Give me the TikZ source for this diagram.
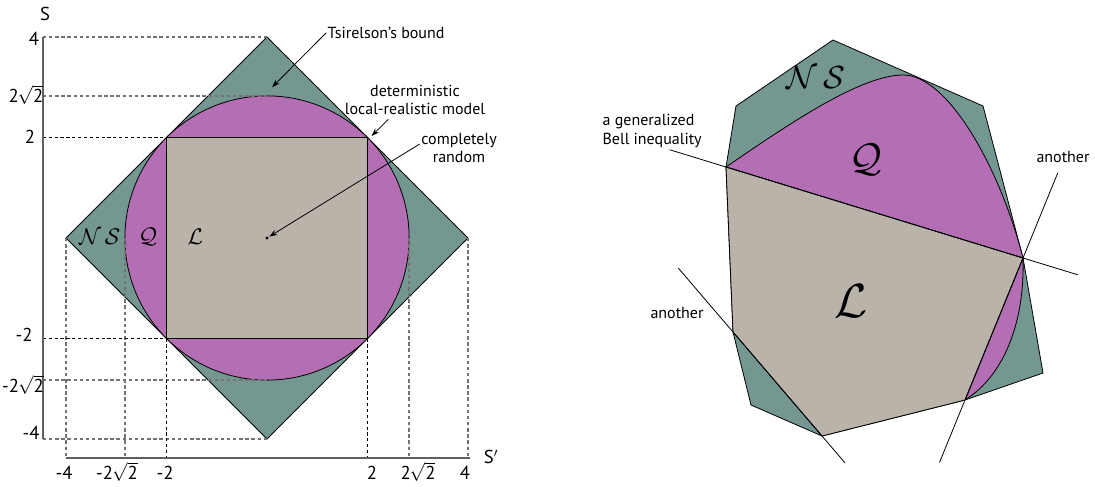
\RequirePackage{fix-cm}
\documentclass[tikz,border=0pt]{standalone}
\usepackage{fontspec}
\setmainfont{PT Sans}
\definecolor{nsTeal}{RGB}{116, 151, 146}
\definecolor{qPurple}{RGB}{180, 111, 180}
\definecolor{lBeige}{RGB}{186, 179, 170}
\definecolor{axisGray}{RGB}{95, 95, 95}
\definecolor{guideGray}{RGB}{115, 115, 115}
\usetikzlibrary{calc, arrows.meta}
\newcommand{\rtwo}{\kern-0.8pt$\sqrt{\mbox{2}}$}

\begin{document}
\begin{tikzpicture}[x=0.75pt, y=-0.75pt,
    region/.style={draw=black, line width=0.6pt, line join=round},
    guide/.style={line width=1pt, guideGray, dash pattern=on 2.6pt off 2pt},
    guideblack/.style={line width=0.5pt, black, dash pattern=on 2.4pt off 2pt},
    axis/.style={line width=1pt, axisGray},
    tick/.style={font=\fontsize{14}{16}\selectfont, inner sep=0pt},
    note/.style={font=\fontsize{12}{14}\selectfont, align=center, inner sep=1pt},
    setname/.style={inner sep=0pt},
    arrow/.style={-{Stealth[length=6pt, width=4.2pt]}, line width=0.6pt},
    bound/.style={line width=0.6pt}
  ]
  \useasboundingbox (0,0) rectangle (1095,486);

  % left: the CHSH plane
  \begin{scope}[shift={(267,238)}, x=37.69pt, y=37.69pt]
    \coordinate (ax) at (-4.46,0);
    \coordinate (ay) at (0,-4.38);
    \filldraw[region, fill=nsTeal] (0,4) -- (4,0) -- (0,-4) -- (-4,0) -- cycle;
    \filldraw[region, fill=qPurple] (0,0) circle (2.828);
    \filldraw[region, fill=lBeige] (-2,-2) rectangle (2,2);

    % guide lines
    \foreach \v in {4, 2.828, -2.828, -4} {
      \draw[guide] (ax |- 0,\v) -- (0,\v);
      \draw[guide] (\v,0) -- (\v,0 |- ay);
    }
    \foreach \v in {2, -2} {
      \draw[guideblack] (ax |- 0,\v) -- (-2,\v);
      \draw[guideblack] (\v,-2) -- (\v,0 |- ay);
    }
    \draw[axis] (ax |- 0,4) -- (ax |- 0,-4);
    \draw[axis] (-4,0 |- ay) -- (4.04,0 |- ay);

    \coordinate (tsitip) at (0.1,3);
    \coordinate (dettip) at (2.08,2.03);
    \coordinate (origin) at (0,0);
    \fill (origin) circle (1.3pt);

    \node[setname, font=\fontsize{17}{19}\selectfont] (nsL) at (-3.33,0.03) {$\mathcal{N}\,\mathcal{S}$};
    \node[setname, font=\fontsize{17}{19}\selectfont] (qL) at (-2.37,0.03) {$\mathcal{Q}$};
    \node[setname, font=\fontsize{17}{19}\selectfont] (lL) at (-1.43,0.03) {$\mathcal{L}$};
  \end{scope}

  % tick labels
  \node[tick] (yfour) at (34,39) {4};
  \node[tick] (ysqrt) at (26,95) {2\rtwo};
  \node[tick] (ytwo) at (30,137) {2};
  \node[tick] (ymtwo) at (24,335) {-2};
  \node[tick] (ymsqrt) at (23,385) {-2\rtwo};
  \node[tick] (ymfour) at (31,433) {-4};
  \node[tick] (xmfour) at (64,473) {-4};
  \node[tick] (xmsqrt) at (117,472) {-2\rtwo};
  \node[tick] (xmtwo) at (165,473) {-2};
  \node[tick] (xtwo) at (372,473) {2};
  \node[tick] (xsqrt) at (418,472) {2\rtwo};
  \node[tick] (xfour) at (465,473) {4};
  \node[tick] (sname) at (45,14) {S};
  \node[tick] (sprime) at (491,457) {S$'$};

  % annotations
  \node[note, anchor=west] (tsi) at (326,33) {Tsirelson’s bound};
  \node[note] (det) at (415,100) {deterministic\\local-realistic model};
  \node[note] (rand) at (459,148) {completely\\random};
  \draw[arrow] (tsi.west) -- (tsitip);
  \draw[arrow] ([xshift=-20pt, yshift=-2pt]det.south) -- (dettip);
  \draw[arrow, shorten >=2pt] ([yshift=3pt]rand.west) -- (origin);

  % right: polytopes
  \coordinate (lA) at (726,167);
  \coordinate (lB) at (1023,258);
  \coordinate (lC) at (965,400);
  \coordinate (lD) at (822,436);
  \coordinate (lE) at (733,332);
  \coordinate (nA) at (736,106);
  \coordinate (nB) at (833,40);
  \coordinate (nC) at (983,106);
  \coordinate (nD) at (1043,373);
  \coordinate (nE) at (751,405);

  \filldraw[region, fill=nsTeal] (lA) -- (nA) -- (nB) -- (nC) -- (lB) -- (nD) -- (lC) -- (lD) -- (nE) -- (lE) -- cycle;
  \filldraw[region, fill=qPurple] (lA) .. controls (786,126) and (860,75) .. (903,75)
    .. controls (948,75) and (1000,168) .. (lB) -- cycle;
  \filldraw[region, fill=qPurple] (lB) .. controls (1025,320) and (1005,375) .. (lC) -- cycle;
  \filldraw[region, fill=lBeige] (lA) -- (lB) -- (lC) -- (lD) -- (lE) -- cycle;

  \draw[bound] ($(lA)!-0.19!(lB)$) -- ($(lB)!-0.185!(lA)$);
  \draw[bound] ($(lB)!-0.6!(lC)$) -- ($(lC)!-0.44!(lB)$);
  \draw[bound] ($(lE)!-0.615!(lD)$) -- ($(lD)!-0.26!(lE)$);

  \node[note, anchor=west, align=left] (bell) at (601,131) {a generalized\\Bell inequality};
  \node[note] (anoR) at (1063,157) {another};
  \node[note] (anoL) at (677,313) {another};

  \node[setname, font=\fontsize{24}{26}\selectfont] (nsR) at (816,78) {$\mathcal{N}\,\mathcal{S}$};
  \node[setname, font=\fontsize{30}{32}\selectfont] (qR) at (866,160) {$\mathcal{Q}$};
  \node[setname, font=\fontsize{36}{38}\selectfont] (lR) at (851,301) {$\mathcal{L}$};
\end{tikzpicture}
\end{document}
